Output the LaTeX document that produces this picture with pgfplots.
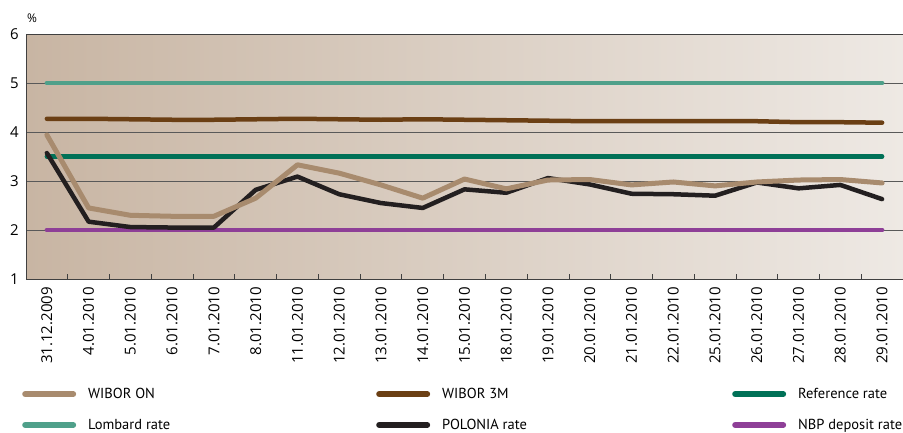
\documentclass[border=0pt]{standalone}
\usepackage{fontspec}
\setmainfont{Open Sans}
\newfontfamily\legfont{PT Sans}
\usepackage{pgfplots}
\usepackage{pgfplotstable}
\pgfplotsset{compat=1.18}

\definecolor{wiboron}{RGB}{168,139,110}
\definecolor{wibor3m}{RGB}{107,63,20}
\definecolor{refrate}{RGB}{0,113,87}
\definecolor{lombard}{RGB}{79,160,138}
\definecolor{polonia}{RGB}{35,31,32}
\definecolor{deposit}{RGB}{142,63,151}
\definecolor{bgleft}{RGB}{200,181,163}
\definecolor{bgright}{RGB}{238,233,228}

% idx: 0 = 31.12.2009 ... 20 = 29.01.2010
\pgfplotstableread{
idx won  w3m  pol   lom ref dep
0   3.94 4.27 3.57  5.0 3.5 2.0
1   2.45 4.27 2.17  5.0 3.5 2.0
2   2.30 4.26 2.06  5.0 3.5 2.0
3   2.28 4.25 2.05  5.0 3.5 2.0
4   2.28 4.25 2.05  5.0 3.5 2.0
5   2.65 4.26 2.82  5.0 3.5 2.0
6   3.33 4.27 3.09  5.0 3.5 2.0
7   3.16 4.26 2.73  5.0 3.5 2.0
8   2.92 4.25 2.55  5.0 3.5 2.0
9   2.65 4.26 2.45  5.0 3.5 2.0
10  3.04 4.25 2.83  5.0 3.5 2.0
11  2.84 4.24 2.76  5.0 3.5 2.0
12  3.02 4.23 3.06  5.0 3.5 2.0
13  3.03 4.22 2.93  5.0 3.5 2.0
14  2.92 4.22 2.74  5.0 3.5 2.0
15  2.98 4.22 2.73  5.0 3.5 2.0
16  2.90 4.22 2.70  5.0 3.5 2.0
17  2.98 4.22 2.97  5.0 3.5 2.0
18  3.02 4.20 2.85  5.0 3.5 2.0
19  3.03 4.20 2.92  5.0 3.5 2.0
20  2.96 4.19 2.63  5.0 3.5 2.0
}\rates

\begin{document}
\begin{tikzpicture}
\path[use as bounding box] (0pt,0pt) rectangle (903pt,432pt);
\begin{axis}[
  at={(26pt,153pt)}, anchor=south west,
  scale only axis, width=877pt, height=245pt,
  xmin=-0.5, xmax=20.5, ymin=1, ymax=6,
  ytick={1,2,3,4,5,6},
  xtick={0,...,20},
  xticklabels={31.12.2009,4.01.2010,5.01.2010,6.01.2010,7.01.2010,8.01.2010,
    11.01.2010,12.01.2010,13.01.2010,14.01.2010,15.01.2010,18.01.2010,
    19.01.2010,20.01.2010,21.01.2010,22.01.2010,25.01.2010,26.01.2010,
    27.01.2010,28.01.2010,29.01.2010},
  minor xtick={-0.5,0.5,...,20.5},
  major tick length=0pt, minor tick length=5pt,
  tick align=inside, xtick pos=lower, ytick pos=left,
  tick style={black!75, line width=0.8pt},
  ymajorgrids, grid style={black!65, line width=0.8pt},
  axis line style={black!75, line width=1pt},
  axis background/.style={left color=bgleft, right color=bgright},
  x tick label style={rotate=90, anchor=east, font=\fontsize{15}{16}\selectfont, inner sep=0pt, xshift=-8pt},
  y tick label style={font=\fontsize{15}{16}\selectfont, inner sep=0pt, xshift=-7pt},
  /pgf/number format/assume math mode=true,
  clip=false,
  legend columns=3,
  legend style={at={(axis description cs:0,0)}, anchor=north west,
    xshift=-4pt, yshift=-107pt, draw=none, fill=none,
    font=\legfont\fontsize{14.5}{15.5}\selectfont,
    row sep=15pt, inner sep=0pt,
    /tikz/every even column/.append style={column sep=0pt}},
  legend cell align=left,
  legend image code/.code={\draw[line width=6pt, line cap=round, #1] (3pt,0pt) -- (51pt,0pt);},
]
\addplot[lombard, line width=4.5pt, line cap=round, forget plot] table[x=idx, y=lom] {\rates};
\addplot[refrate, line width=4.5pt, line cap=round, forget plot] table[x=idx, y=ref] {\rates};
\addplot[deposit, line width=4.5pt, line cap=round, forget plot] table[x=idx, y=dep] {\rates};
\addplot[wibor3m, line width=4.5pt, line cap=round, forget plot] table[x=idx, y=w3m] {\rates};
\addplot[polonia, line width=4.5pt, line cap=round, line join=round, forget plot] table[x=idx, y=pol] {\rates};
\addplot[wiboron, line width=5pt, line cap=round, line join=round, forget plot] table[x=idx, y=won] {\rates};

\addlegendimage{wiboron}
\addlegendentry{\makebox[296pt][l]{\hspace{10pt}WIBOR ON}}
\addlegendimage{wibor3m}
\addlegendentry{\makebox[298pt][l]{\hspace{10pt}WIBOR 3M}}
\addlegendimage{refrate}
\addlegendentry{\makebox[110pt][l]{\hspace{10pt}Reference rate}}
\addlegendimage{lombard}
\addlegendentry{\makebox[296pt][l]{\hspace{10pt}Lombard rate}}
\addlegendimage{polonia}
\addlegendentry{\makebox[298pt][l]{\hspace{10pt}POLONIA rate}}
\addlegendimage{deposit}
\addlegendentry{\makebox[110pt][l]{\hspace{10pt}NBP deposit rate}}

\node[font=\fontsize{12}{13}\selectfont] at ([xshift=6pt, yshift=16pt]axis description cs:0,1) {\%};
\end{axis}
\end{tikzpicture}
\end{document}
